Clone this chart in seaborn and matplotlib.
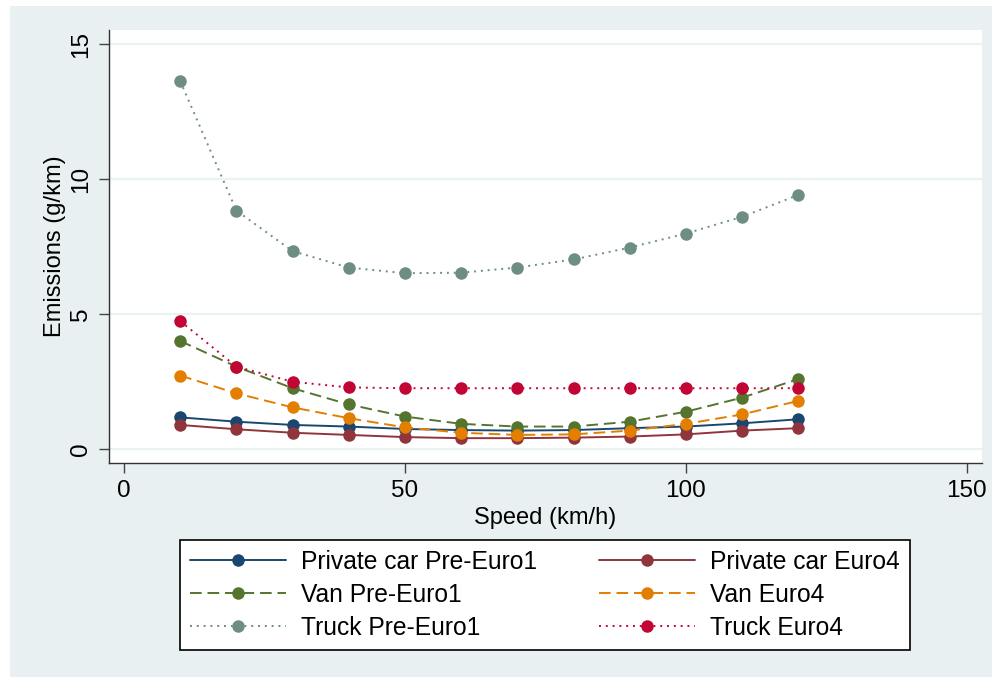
import pandas as pd
import numpy as np
import matplotlib
matplotlib.use("Agg")
import matplotlib.pyplot as plt
import seaborn as sns
from matplotlib.patches import Rectangle

speed = [10, 20, 30, 40, 50, 60, 70, 80, 90, 100, 110, 120]
car_pre = [1.17, 1.01, 0.89, 0.83, 0.74, 0.70, 0.68, 0.70, 0.77, 0.83, 0.95, 1.10]
car_e4 = [0.89, 0.73, 0.60, 0.52, 0.44, 0.40, 0.40, 0.42, 0.46, 0.54, 0.68, 0.77]
van_pre = [4.00, 3.05, 2.25, 1.65, 1.20, 0.93, 0.83, 0.83, 1.01, 1.38, 1.90, 2.59]
van_e4 = [2.72, 2.06, 1.54, 1.14, 0.80, 0.60, 0.52, 0.54, 0.68, 0.93, 1.28, 1.78]
truck_pre = [13.63, 8.83, 7.33, 6.72, 6.51, 6.53, 6.72, 7.02, 7.46, 7.98, 8.60, 9.41]
truck_e4 = [4.74, 3.05, 2.49, 2.28, 2.25, 2.25, 2.25, 2.25, 2.25, 2.25, 2.25, 2.25]

labels = ["Private car Pre-Euro1", "Private car Euro4", "Van Pre-Euro1",
          "Van Euro4", "Truck Pre-Euro1", "Truck Euro4"]
x_ticks = [0, 50, 100, 150]
y_ticks = [0, 5, 10, 15]

# Stata s2color-ish styling
colors = ["#1A476F", "#90353B", "#55752F", "#E37E00", "#6E8E84", "#C10534"]
styles = ["-", "-", (0, (6, 3)), (0, (6, 3)), (0, (1, 2.5)), (0, (1, 2.5))]

df = pd.DataFrame({"speed": speed, labels[0]: car_pre, labels[1]: car_e4,
                   labels[2]: van_pre, labels[3]: van_e4,
                   labels[4]: truck_pre, labels[5]: truck_e4})
df_long = df.melt(id_vars="speed", var_name="series", value_name="emissions")

sns.set_theme(style="white")
plt.rcParams["font.family"] = ["Liberation Sans", "DejaVu Sans"]
plt.rcParams["text.color"] = "black"
plt.rcParams["axes.labelcolor"] = "black"

bg = "#E8F0F2"
fig = plt.figure(figsize=(9.92, 6.77), dpi=100)
fig.patch.set_facecolor("white")
fig.patches.append(Rectangle((10 / 992, 0), 1, 1 - 6 / 677, transform=fig.transFigure,
                             facecolor=bg, edgecolor="none", zorder=-10))

ax = fig.add_axes([109 / 992, 1 - 463 / 677, (982 - 109) / 992, (463 - 30) / 677])
ax.set_facecolor("white")

for i, lab in enumerate(labels):
    sub = df_long[df_long["series"] == lab]
    sns.lineplot(data=sub, x="speed", y="emissions", ax=ax, color=colors[i],
                 linestyle=styles[i], linewidth=1.4, marker="o", markersize=9,
                 markeredgewidth=0, label=lab, zorder=3 + i)

ax.set_xlim(-2.67, 152.7)
ax.set_ylim(-0.52, 15.52)
ax.set_xticks(x_ticks)
ax.set_yticks(y_ticks)
ax.set_yticklabels([str(v) for v in y_ticks], rotation=90, va="center")
ax.yaxis.grid(True, color="#EAF2F3", linewidth=1.6)
ax.xaxis.grid(False)
ax.set_axisbelow(True)

for side in ["top", "right"]:
    ax.spines[side].set_visible(False)
for side in ["left", "bottom"]:
    ax.spines[side].set_color("#333333")
    ax.spines[side].set_linewidth(1.0)

ax.tick_params(axis="both", which="major", direction="out", length=7, width=1,
               color="#444444", labelsize=17.5, labelcolor="black", bottom=True, left=True)
ax.tick_params(axis="x", pad=5)
ax.tick_params(axis="y", pad=5)

ax.set_xlabel("Speed (km/h)", fontsize=17, labelpad=4)
ax.set_ylabel("Emissions (g/km)", fontsize=17, labelpad=3)

ax.legend_.remove()
handles, labs = ax.get_legend_handles_labels()
# row-wise order like Stata: matplotlib fills columns first
order = [0, 2, 4, 1, 3, 5]
leg = fig.legend([handles[i] for i in order], [labs[i] for i in order], ncol=2,
                 loc="lower left",
                 bbox_to_anchor=(180 / 992, 1 - 650 / 677, 730 / 992, 110 / 677),
                 mode="expand", fontsize=17.7, frameon=True, fancybox=False,
                 edgecolor="black", facecolor="white", framealpha=1,
                 handlelength=3.9, handletextpad=0.6, numpoints=1,
                 labelspacing=0.36, borderpad=0.42, borderaxespad=0, columnspacing=2.0)
leg.get_frame().set_linewidth(1.2)
for t in leg.get_texts():
    t.set_color("black")

fig.savefig("out.png", dpi=100, facecolor=fig.get_facecolor())
